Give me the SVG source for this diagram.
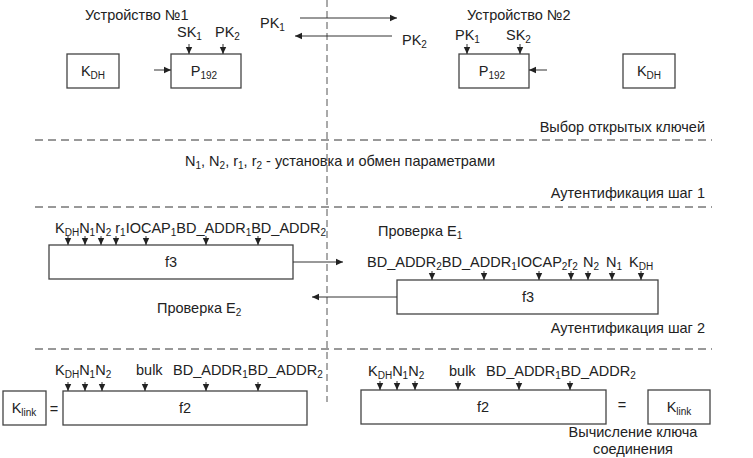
<svg xmlns="http://www.w3.org/2000/svg" width="753" height="458" viewBox="0 0 753 458">
<defs>
<marker id="ah" markerWidth="8" markerHeight="8" refX="7" refY="4" orient="auto" markerUnits="userSpaceOnUse">
<path d="M0,0.8 L7,4 L0,7.2 Z" fill="#222"/>
</marker>
</defs>
<style>
text{font-family:"Liberation Sans",Arial,sans-serif;font-size:14.5px;fill:#222}
.big{font-size:14.5px}
.sub{font-size:10px}
.box{fill:#fff;stroke:#444;stroke-width:1.3}
.ln{stroke:#333;stroke-width:1;fill:none}
.dash{stroke:#333;stroke-width:1;stroke-dasharray:8 5;fill:none}
.vdash{stroke:#555;stroke-width:1;stroke-dasharray:7 4;fill:none}
.ar{stroke:#333;stroke-width:1;fill:none;marker-end:url(#ah)}
</style>
<rect width="753" height="458" fill="#fff"/>

<g id="separators">
<line class="vdash" x1="327" y1="0" x2="327" y2="402"/>
<line class="dash" x1="35" y1="140" x2="712" y2="140"/>
<line class="dash" x1="35" y1="207" x2="712" y2="207"/>
<line class="dash" x1="35" y1="349" x2="712" y2="349"/>
</g>

<g id="labels">
<text x="85" y="20">Устройство №1</text>
<text x="467" y="20">Устройство №2</text>
<text x="705" y="132" text-anchor="end">Выбор открытых ключей</text>
<text x="185" y="166">N<tspan class="sub" dy="3">1</tspan><tspan dy="-3">, N</tspan><tspan class="sub" dy="3">2</tspan><tspan dy="-3">, r</tspan><tspan class="sub" dy="3">1</tspan><tspan dy="-3">, r</tspan><tspan class="sub" dy="3">2</tspan><tspan dy="-3" dx="4">- установка и обмен параметрами</tspan></text>
<text x="705" y="198" text-anchor="end">Аутентификация шаг 1</text>
<text x="378" y="236">Проверка E<tspan class="sub" dy="3">1</tspan></text>
<text x="157" y="313">Проверка E<tspan class="sub" dy="3">2</tspan></text>
<text x="705" y="333" text-anchor="end">Аутентификация шаг 2</text>
<text x="633" y="437" text-anchor="middle">Вычисление ключа</text>
<text x="633" y="454" text-anchor="middle">соединения</text>
</g>

<g id="dev1">
<rect class="box" x="67" y="54" width="52" height="34"/>
<text x="93" y="76" text-anchor="middle">K<tspan class="sub" dy="3">DH</tspan></text>
<rect class="box" x="171" y="54" width="70" height="34"/>
<text x="204" y="76" text-anchor="middle">P<tspan class="sub" dy="3">192</tspan></text>
<text x="177" y="37">SK<tspan class="sub" dy="3">1</tspan></text>
<text x="215" y="37">PK<tspan class="sub" dy="3">2</tspan></text>
</g>

<g id="dev2">
<rect class="box" x="459" y="54" width="70" height="34"/>
<text x="492" y="76" text-anchor="middle">P<tspan class="sub" dy="3">192</tspan></text>
<rect class="box" x="623" y="54" width="52" height="34"/>
<text x="649" y="76" text-anchor="middle">K<tspan class="sub" dy="3">DH</tspan></text>
<text x="455" y="40">PK<tspan class="sub" dy="3">1</tspan></text>
<text x="506" y="40">SK<tspan class="sub" dy="3">2</tspan></text>
</g>

<g id="exchange">
<text x="260" y="28">PK<tspan class="sub" dy="3">1</tspan></text>
<text x="402" y="45">PK<tspan class="sub" dy="3">2</tspan></text>
</g>

<g id="auth1-left">
<rect class="box" x="49" y="245" width="244" height="34"/>
<text x="171" y="267" text-anchor="middle">f3</text>
<text x="55" y="233" class="big">K<tspan class="sub" dy="3">DH</tspan><tspan dy="-3">N</tspan><tspan class="sub" dy="3">1</tspan><tspan dy="-3">N</tspan><tspan class="sub" dy="3">2</tspan><tspan dy="-3"> r</tspan><tspan class="sub" dy="3">1</tspan><tspan dy="-3">IOCAP</tspan><tspan class="sub" dy="3">1</tspan><tspan dy="-3">BD_ADDR</tspan><tspan class="sub" dy="3">1</tspan><tspan dy="-3">BD_ADDR</tspan><tspan class="sub" dy="3">2</tspan></text>
</g>

<g id="auth1-right">
<rect class="box" x="397" y="280" width="261" height="34"/>
<text x="528" y="302" text-anchor="middle">f3</text>
<text x="367" y="267" class="big">BD_ADDR<tspan class="sub" dy="3">2</tspan><tspan dy="-3">BD_ADDR</tspan><tspan class="sub" dy="3">1</tspan><tspan dy="-3">IOCAP</tspan><tspan class="sub" dy="3">2</tspan><tspan dy="-3">r</tspan><tspan class="sub" dy="3">2</tspan></text>
<text x="583" y="267" class="big">N<tspan class="sub" dy="3">2</tspan></text>
<text x="606" y="267" class="big">N<tspan class="sub" dy="3">1</tspan></text>
<text x="629" y="267" class="big">K<tspan class="sub" dy="3">DH</tspan></text>
</g>

<g id="link-left">
<rect class="box" x="3" y="391" width="43" height="34"/>
<text x="24" y="413" text-anchor="middle">K<tspan class="sub" dy="3">link</tspan></text>
<text x="54" y="414" text-anchor="middle">=</text>
<rect class="box" x="63" y="391" width="244" height="34"/>
<text x="185" y="413" text-anchor="middle">f2</text>
<text x="55" y="375" class="big">K<tspan class="sub" dy="3">DH</tspan><tspan dy="-3">N</tspan><tspan class="sub" dy="3">1</tspan><tspan dy="-3">N</tspan><tspan class="sub" dy="3">2</tspan></text>
<text x="136" y="375" class="big">bulk</text>
<text x="173" y="375" class="big">BD_ADDR<tspan class="sub" dy="3">1</tspan><tspan dy="-3">BD_ADDR</tspan><tspan class="sub" dy="3">2</tspan></text>
</g>

<g id="link-right">
<rect class="box" x="361" y="390" width="245" height="34"/>
<text x="483" y="412" text-anchor="middle">f2</text>
<text x="622" y="410" text-anchor="middle">=</text>
<rect class="box" x="648" y="390" width="62" height="34"/>
<text x="679" y="412" text-anchor="middle">K<tspan class="sub" dy="3">link</tspan></text>
<text x="368" y="376" class="big">K<tspan class="sub" dy="3">DH</tspan><tspan dy="-3">N</tspan><tspan class="sub" dy="3">1</tspan><tspan dy="-3">N</tspan><tspan class="sub" dy="3">2</tspan></text>
<text x="449" y="376" class="big">bulk</text>
<text x="486" y="376" class="big">BD_ADDR<tspan class="sub" dy="3">1</tspan><tspan dy="-3">BD_ADDR</tspan><tspan class="sub" dy="3">2</tspan></text>
</g>

<g id="connectors">
<line class="ar" x1="300" y1="18" x2="397" y2="18"/>
<line class="ar" x1="392" y1="36" x2="295" y2="36"/>
<line class="ar" x1="189" y1="44" x2="189" y2="54"/>
<line class="ar" x1="223" y1="44" x2="223" y2="54"/>
<line class="ar" x1="154" y1="70" x2="171" y2="70"/>
<line class="ar" x1="467" y1="44" x2="467" y2="54"/>
<line class="ar" x1="520" y1="44" x2="520" y2="54"/>
<line class="ar" x1="547" y1="70" x2="529" y2="70"/>
<line class="ar" x1="68" y1="236" x2="68" y2="245"/>
<line class="ar" x1="85" y1="236" x2="85" y2="245"/>
<line class="ar" x1="101" y1="236" x2="101" y2="245"/>
<line class="ar" x1="116" y1="236" x2="116" y2="245"/>
<line class="ar" x1="146" y1="236" x2="146" y2="245"/>
<line class="ar" x1="206" y1="236" x2="206" y2="245"/>
<line class="ar" x1="258" y1="236" x2="258" y2="245"/>
<line class="ar" x1="293" y1="262" x2="343" y2="262"/>
<line class="ar" x1="432" y1="271" x2="432" y2="280"/>
<line class="ar" x1="484" y1="271" x2="484" y2="280"/>
<line class="ar" x1="539" y1="271" x2="539" y2="280"/>
<line class="ar" x1="571" y1="271" x2="571" y2="280"/>
<line class="ar" x1="588" y1="271" x2="588" y2="280"/>
<line class="ar" x1="612" y1="271" x2="612" y2="280"/>
<line class="ar" x1="641" y1="271" x2="641" y2="280"/>
<line class="ar" x1="397" y1="297" x2="312" y2="297"/>
<line class="ar" x1="68" y1="382" x2="68" y2="391"/>
<line class="ar" x1="85" y1="382" x2="85" y2="391"/>
<line class="ar" x1="102" y1="382" x2="102" y2="391"/>
<line class="ar" x1="145" y1="382" x2="145" y2="391"/>
<line class="ar" x1="206" y1="382" x2="206" y2="391"/>
<line class="ar" x1="258" y1="382" x2="258" y2="391"/>
<line class="ar" x1="380" y1="381" x2="380" y2="390"/>
<line class="ar" x1="397" y1="381" x2="397" y2="390"/>
<line class="ar" x1="415" y1="381" x2="415" y2="390"/>
<line class="ar" x1="458" y1="381" x2="458" y2="390"/>
<line class="ar" x1="519" y1="381" x2="519" y2="390"/>
<line class="ar" x1="570" y1="381" x2="570" y2="390"/>
</g>
</svg>
